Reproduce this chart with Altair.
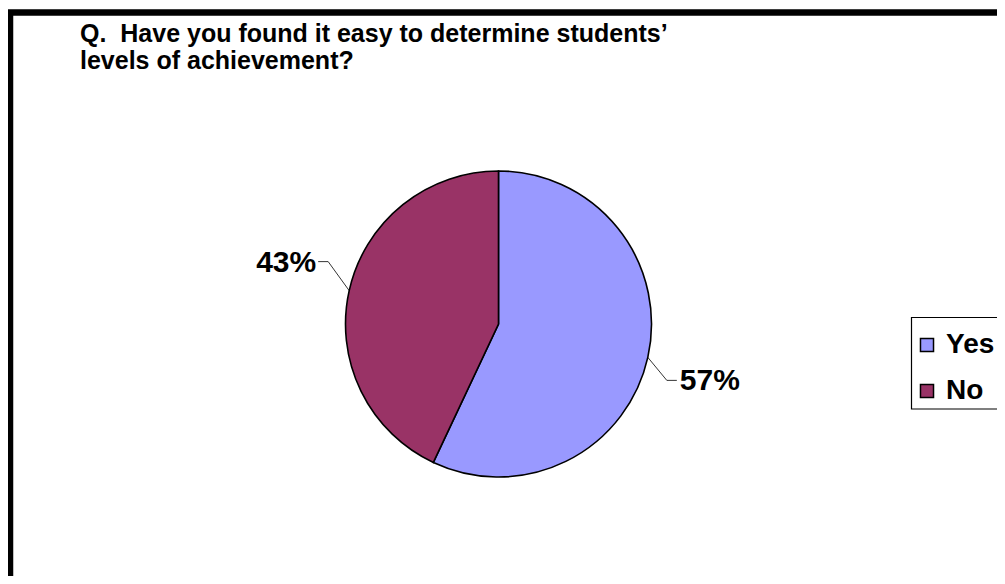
import math
import altair as alt
import pandas as pd

# ---- data ----
categories = ["Yes", "No"]
values = [57, 43]
labels = ["57%", "43%"]
colors = ["#9999FF", "#993366"]
title_lines = ["Q.\u00a0 Have you found it easy to determine students’", "levels of achievement?"]

# ---- layout (style) ----
W, H = 989, 568
CX, CY, R = 490.5, 316.0, 153
FONT = "Liberation Sans"
TITLE_SIZE = 25
LABEL_SIZE = 30
# leader elbow offsets (dx, dy) and horizontal run per slice
leader_style = {"Yes": (19, 23, 10), "No": (-21, -29, -10)}

pie_df = pd.DataFrame({"cat": categories, "value": values, "order": list(range(len(values)))})

total = float(sum(values))
cum = 0.0
line_rows, label_rows = [], []
for c, v, lab in zip(categories, values, labels):
    mid = (cum + v / 2.0) / total * 2 * math.pi
    cum += v
    ex, ey = CX + R * math.sin(mid), CY - R * math.cos(mid)
    dx, dy, run = leader_style[c]
    bx, by = ex + dx, ey + dy
    fx, fy = bx + run, by
    side = "right" if run > 0 else "left"
    for i, (px, py) in enumerate([(ex, ey), (bx, by), (fx, fy)]):
        line_rows.append({"cat": c, "seq": i, "px": px, "py": py})
    label_rows.append({"cat": c, "label": lab, "side": side,
                       "px": fx + (3 if run > 0 else -2), "py": fy + 1})
line_df = pd.DataFrame(line_rows)
label_df = pd.DataFrame(label_rows)

xs = alt.Scale(domain=[0, W], range=[0, W])
ys = alt.Scale(domain=[0, H], range=[0, H])

legend_box = alt.Chart(pd.DataFrame({"k": [0]})).mark_rect(
    fill="white", stroke="black", strokeWidth=1.2
).encode(x=alt.value(903.5), y=alt.value(309.5), x2=alt.value(1100), y2=alt.value(401))

pie = alt.Chart(pie_df).mark_arc(stroke="black", strokeWidth=1.6, outerRadius=R).encode(
    theta=alt.Theta("value:Q", stack=True),
    order=alt.Order("order:Q"),
    color=alt.Color(
        "cat:N",
        scale=alt.Scale(domain=categories, range=colors),
        legend=alt.Legend(
            orient="none", legendX=905, legendY=323, title=None, padding=0,
            symbolType="square", symbolSize=170, symbolStrokeColor="black",
            symbolStrokeWidth=1.5, symbolOpacity=1,
            labelFont=FONT, labelFontSize=28, labelFontWeight="bold",
            labelColor="black", rowPadding=18, labelOffset=5,
        ),
    ),
    x=alt.value(CX),
    y=alt.value(CY),
)

leaders = alt.Chart(line_df).mark_line(color="black", strokeWidth=0.8).encode(
    x=alt.X("px:Q", scale=xs, axis=None),
    y=alt.Y("py:Q", scale=ys, axis=None),
    detail="cat:N",
    order="seq:Q",
)

lab_right = alt.Chart(label_df).transform_filter(alt.datum.side == "right").mark_text(
    align="left", baseline="middle", font=FONT, fontSize=LABEL_SIZE, fontWeight="bold", color="black"
).encode(x=alt.X("px:Q", scale=xs, axis=None), y=alt.Y("py:Q", scale=ys, axis=None), text="label:N")

lab_left = alt.Chart(label_df).transform_filter(alt.datum.side == "left").mark_text(
    align="right", baseline="middle", font=FONT, fontSize=LABEL_SIZE, fontWeight="bold", color="black"
).encode(x=alt.X("px:Q", scale=xs, axis=None), y=alt.Y("py:Q", scale=ys, axis=None), text="label:N")

title = alt.Chart(pd.DataFrame({"k": [0]})).mark_text(
    text=title_lines, align="left", baseline="top", font=FONT, fontSize=TITLE_SIZE,
    fontWeight="bold", color="black", lineHeight=27,
).encode(x=alt.value(72), y=alt.value(14))

border = alt.Chart(pd.DataFrame({"k": [0]})).mark_rect(
    fill=None, stroke="black", strokeWidth=6.5
).encode(x=alt.value(2), y=alt.value(4.5), x2=alt.value(1200), y2=alt.value(900))

chart = alt.layer(border, legend_box, pie, leaders, lab_right, lab_left, title).properties(
    width=W, height=H, autosize=alt.AutoSizeParams(type="none"), padding=0
).configure_view(stroke=None)

chart.save("out.html", embed_options={"renderer": "svg", "actions": False})
